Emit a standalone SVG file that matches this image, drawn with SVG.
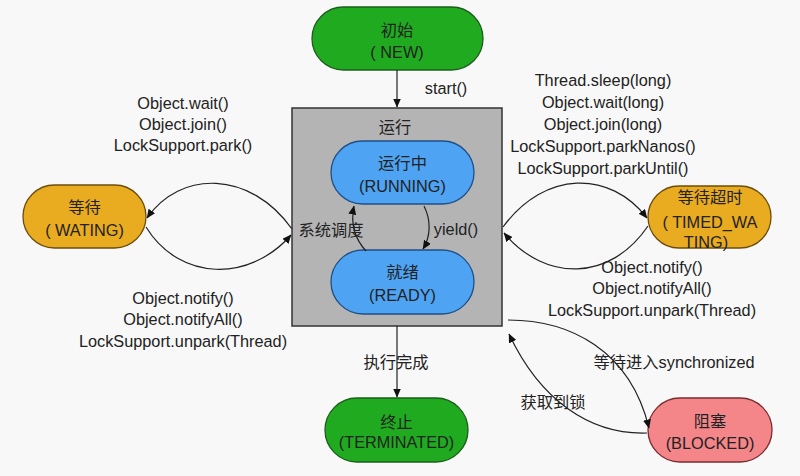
<svg xmlns="http://www.w3.org/2000/svg" width="800" height="476" viewBox="0 0 800 476">
<style>
text{font-family:"Liberation Sans","Noto Sans CJK SC",sans-serif;font-size:16.3px;fill:#222;text-anchor:middle}
.pill{stroke:#333;stroke-width:1.3}
.green{fill:#1faa1f;stroke:#1d5e1d}
.blue{fill:#4ea3f2;stroke:#1f4f86}
.orange{fill:#e9ab1f;stroke:#6b4d0c}
.pink{fill:#f4868a;stroke:#7a2c30}
.conn path{fill:none;stroke:#222;stroke-width:1.2}
</style>
<defs>
<marker id="ah" markerWidth="9" markerHeight="8" refX="8.5" refY="4" orient="auto" markerUnits="userSpaceOnUse">
<path d="M0,0 L9,4 L0,8 z" fill="#111"/>
</marker>
</defs>
<rect width="800" height="476" fill="#f8f8f8"/>

<g id="running-box">
<rect x="292" y="108" width="210" height="218" fill="#b4b4b4" stroke="#333" stroke-width="1.5"/>
<text x="395" y="133">运行</text>
</g>

<g id="new">
<rect class="pill green" x="312" y="7" width="171" height="63" rx="31.5"/>
<text x="397" y="36">初始</text>
<text x="397" y="58">( NEW)</text>
</g>

<g id="running">
<rect class="pill blue" x="331" y="141" width="143" height="63" rx="31.5"/>
<text x="402.5" y="169">运行中</text>
<text x="402.5" y="192">(RUNNING)</text>
</g>

<g id="ready">
<rect class="pill blue" x="331" y="250" width="143" height="64" rx="32"/>
<text x="402.5" y="278">就绪</text>
<text x="402.5" y="301">(READY)</text>
</g>

<g id="waiting">
<rect class="pill orange" x="23" y="185" width="123" height="63" rx="31.5"/>
<text x="84.5" y="213">等待</text>
<text x="84.5" y="236">( WATING)</text>
</g>

<g id="timed-waiting">
<rect class="pill orange" x="648" y="186" width="123" height="62" rx="31"/>
<text x="710" y="203">等待超时</text>
<text x="710" y="228">( TIMED_WA</text>
<text x="706" y="248">TING)</text>
</g>

<g id="terminated">
<rect class="pill green" x="325" y="398" width="143" height="64" rx="32"/>
<text x="396.5" y="428">终止</text>
<text x="396.5" y="448">(TERMINATED)</text>
</g>

<g id="blocked">
<rect class="pill pink" x="648" y="398" width="124" height="64" rx="32"/>
<text x="710" y="427">阻塞</text>
<text x="710" y="449">(BLOCKED)</text>
</g>

<g id="connectors" class="conn">
<path d="M397,70 L397,107" marker-end="url(#ah)"/>
<path d="M292,229 C250,170 180,170 147,218" marker-end="url(#ah)"/>
<path d="M146,227 C180,282 250,282 291,235" marker-end="url(#ah)"/>
<path d="M503,227 C545,170 610,170 647,218" marker-end="url(#ah)"/>
<path d="M648,226 C610,282 545,282 504,233" marker-end="url(#ah)"/>
<path d="M424,206 C431,220 431,236 423,249" marker-end="url(#ah)"/>
<path d="M366,251 C356,240 350,225 354,206" marker-end="url(#ah)"/>
<path d="M397,326 L397,397" marker-end="url(#ah)"/>
<path d="M508,320 C570,320 630,350 649,428" marker-end="url(#ah)"/>
<path d="M647,433 C590,435 540,400 509,334" marker-end="url(#ah)"/>
</g>

<g id="labels">
<text x="446" y="94">start()</text>
<text x="183" y="109">Object.wait()</text>
<text x="183" y="130">Object.join()</text>
<text x="183" y="151">LockSupport.park()</text>
<text x="183" y="304">Object.notify()</text>
<text x="183" y="325">Object.notifyAll()</text>
<text x="183" y="347">LockSupport.unpark(Thread)</text>
<text x="603" y="86">Thread.sleep(long)</text>
<text x="603" y="108">Object.wait(long)</text>
<text x="603" y="130">Object.join(long)</text>
<text x="603" y="152">LockSupport.parkNanos()</text>
<text x="603" y="174">LockSupport.parkUntil()</text>
<text x="652" y="273">Object.notify()</text>
<text x="652" y="294">Object.notifyAll()</text>
<text x="652" y="316">LockSupport.unpark(Thread)</text>
<text x="456" y="235">yield()</text>
<text x="331" y="236">系统调度</text>
<text x="396" y="368">执行完成</text>
<text x="674" y="368">等待进入synchronized</text>
<text x="553" y="408">获取到锁</text>
</g>
</svg>
